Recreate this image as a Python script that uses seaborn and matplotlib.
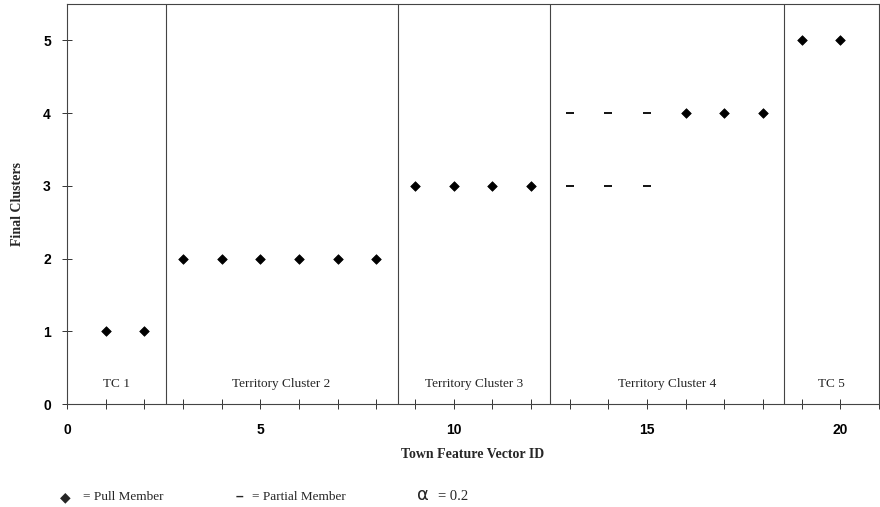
import matplotlib
matplotlib.use("Agg")
import matplotlib.pyplot as plt
from matplotlib.ticker import MultipleLocator
import seaborn as sns
import pandas as pd

# ------------------- data -------------------
full_x = [1, 2, 3, 4, 5, 6, 7, 8, 9, 10, 11, 12, 16, 17, 18, 19, 20]
full_y = [1, 1, 2, 2, 2, 2, 2, 2, 3, 3, 3, 3, 4, 4, 4, 5, 5]
partial_x = [13, 14, 15, 13, 14, 15]
partial_y = [4, 4, 4, 3, 3, 3]
boundaries = [2.55, 8.55, 12.5, 18.55]
cluster_names = ["TC 1", "Territory Cluster 2", "Territory Cluster 3",
                 "Territory Cluster 4", "TC 5"]
x_max = 21.0

full_df = pd.DataFrame({"id": full_x, "cluster": full_y})
partial_df = pd.DataFrame({"id": partial_x, "cluster": partial_y})

sns.set_theme(style="white")
plt.rcParams["font.family"] = ["Liberation Sans", "DejaVu Sans"]

fig = plt.figure(figsize=(8.8, 5.07), dpi=100)
ax = fig.add_axes([0.076, 0.203, 0.923, 0.789])

sns.scatterplot(data=full_df, x="id", y="cluster", marker="D",
                color="black", s=24, edgecolor="black", linewidth=0.5,
                legend=False, ax=ax)
sns.scatterplot(data=partial_df, x="id", y="cluster", marker="_",
                color="black", s=30, linewidth=1.3,
                legend=False, ax=ax)

for b in boundaries:
    ax.axvline(b, color="#444444", lw=0.8)

edges = [0] + boundaries + [x_max]
for i, name in enumerate(cluster_names):
    ax.text((edges[i] + edges[i + 1]) / 2, 0.27, name, ha="center",
            va="center", fontsize=9.5, family="Liberation Serif")

ax.set_xlim(0, x_max)
ax.set_ylim(0, 5.5)
ax.xaxis.set_major_locator(MultipleLocator(5))
ax.xaxis.set_minor_locator(MultipleLocator(1))
ax.yaxis.set_major_locator(MultipleLocator(1))
ax.tick_params(which="both", direction="inout", length=7, width=0.7,
               colors="#333333", labelcolor="black",
               bottom=True, left=True)
ax.tick_params(labelsize=10)
for lab in ax.get_xticklabels() + ax.get_yticklabels():
    lab.set_fontweight("bold")
ax.tick_params(axis="x", pad=10)
ax.tick_params(axis="y", pad=8)

for sp in ax.spines.values():
    sp.set_color("#444444")
    sp.set_linewidth(0.8)

ax.set_xlabel("Town Feature Vector ID", family="Liberation Serif",
              fontweight="bold", fontsize=10, labelpad=8)
ax.set_ylabel("Final Clusters", family="Liberation Serif",
              fontweight="bold", fontsize=10, labelpad=14)

# legend row under the chart
ly = 1 - 497 / 507
fig.text(65 / 880, ly, "\u25C6", fontsize=10, va="center", ha="center",
         family="DejaVu Sans")
fig.text(83 / 880, ly, "= Pull Member", fontsize=9.5,
         family="Liberation Serif", va="center")
fig.text(239 / 880, ly, "\u2013", fontsize=10, fontweight="bold",
         va="center", ha="center")
fig.text(252 / 880, ly, "= Partial Member", fontsize=9.5,
         family="Liberation Serif", va="center")
fig.text(417 / 880, ly + 0.004, "\u03B1", fontsize=13, family="DejaVu Sans",
         va="center")
fig.text(438 / 880, ly, "= 0.2", fontsize=10.5, family="Liberation Serif",
         va="center")

fig.savefig("out.png", dpi=100)
